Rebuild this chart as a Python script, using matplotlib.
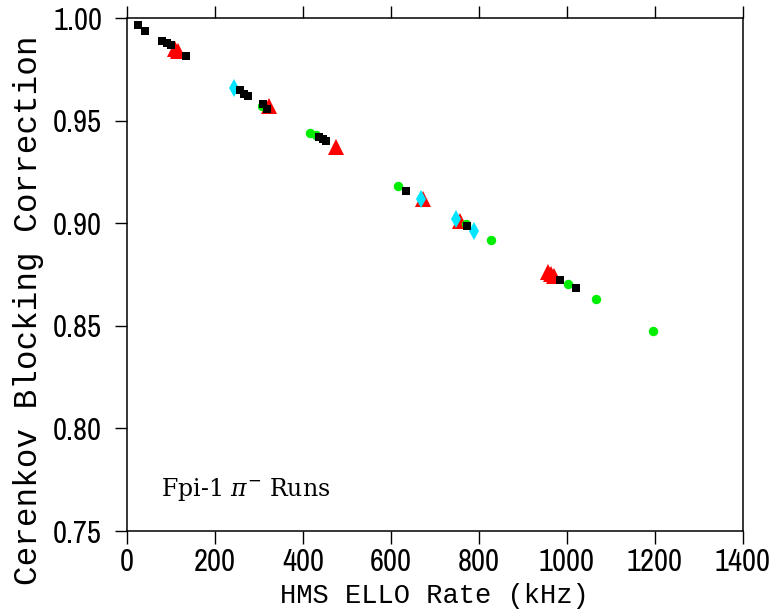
import matplotlib
matplotlib.use("Agg")
import matplotlib.pyplot as plt

# Black squares
sq_x = [25, 40, 80, 91, 100, 133, 257, 267, 275, 310, 319, 436, 445, 452, 635, 774, 985, 1020]
sq_y = [0.9965, 0.994, 0.989, 0.988, 0.987, 0.9815, 0.965, 0.963, 0.962, 0.958, 0.956,
        0.942, 0.941, 0.940, 0.916, 0.8987, 0.8726, 0.8686]

# Red triangles
tri_x = [110, 117, 323, 475, 673, 757, 958, 965, 972]
tri_y = [0.985, 0.984, 0.957, 0.937, 0.912, 0.901, 0.8765, 0.8755, 0.8745]

# Green circles
circ_x = [308, 416, 430, 616, 770, 827, 1003, 1067, 1196]
circ_y = [0.957, 0.944, 0.943, 0.918, 0.8995, 0.892, 0.8705, 0.863, 0.8477]

# Cyan diamonds
dia_x = [244, 669, 748, 790]
dia_y = [0.966, 0.912, 0.902, 0.8965]

x_ticks = [0, 200, 400, 600, 800, 1000, 1200, 1400]
y_ticks = [0.75, 0.80, 0.85, 0.90, 0.95, 1.00]

tick_font = ["Archivo Narrow", "Liberation Sans"]
label_font = "Liberation Mono"

plt.rcParams["mathtext.fontset"] = "dejavuserif"

fig = plt.figure(figsize=(7.7, 6.09), dpi=100)
ax = fig.add_axes([0.165, 0.128, 0.7995, 0.842])

ax.plot(tri_x, tri_y, "^", color="#ff0000", markersize=11, markeredgewidth=0, zorder=3)
ax.plot(circ_x, circ_y, "o", color="#00ee00", markersize=6.8, markeredgewidth=0, zorder=4)
ax.plot(dia_x, dia_y, "d", color="#00e5ff", markersize=9, markeredgewidth=0, zorder=5)
ax.plot(sq_x, sq_y, "s", color="black", markersize=5.8, markeredgewidth=0, zorder=6)

ax.set_xlim(0, 1400)
ax.set_ylim(0.75, 1.00)
ax.set_xticks(x_ticks)
ax.set_yticks(y_ticks)
ax.set_xticklabels([str(v) for v in x_ticks])
ax.set_yticklabels([f"{v:.2f}" for v in y_ticks])
ax.minorticks_off()

for s in ax.spines.values():
    s.set_linewidth(1.1)

ax.tick_params(axis="x", which="major", direction="out", length=9, width=1.0,
               top=True, labeltop=False, pad=3)
ax.tick_params(axis="y", which="major", direction="out", length=9, width=1.0,
               right=False, pad=9)
for lab in ax.get_xticklabels() + ax.get_yticklabels():
    lab.set_fontfamily(tick_font)
    lab.set_fontsize(22)

ax.set_xlabel("HMS ELLO Rate (kHz)", fontfamily=label_font, fontsize=19.5, labelpad=5)
ax.set_ylabel("Cerenkov Blocking Correction", fontfamily=label_font, fontsize=23.5)
ax.yaxis.set_label_coords(-0.135, 0.43)

ax.text(0.055, 0.068, r"Fpi-1 $\pi^{-}$ Runs", transform=ax.transAxes,
        fontfamily="DejaVu Serif", fontsize=17)

fig.savefig("out.png", dpi=100)
